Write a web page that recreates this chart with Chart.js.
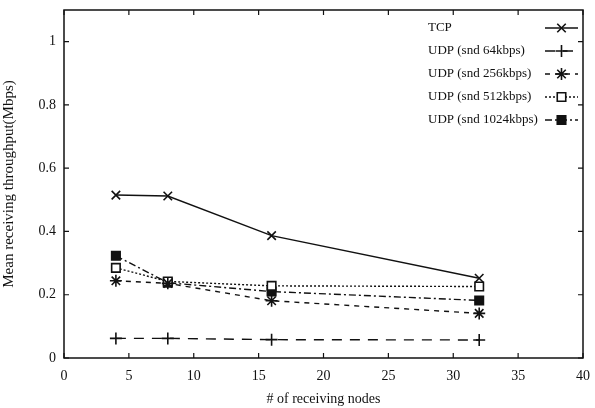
<!DOCTYPE html>
<html>
<head>
<meta charset="utf-8">
<script src="https://cdn.jsdelivr.net/npm/chart.js@4"></script>
<style>
  html, body { margin: 0; padding: 0; background: #fff; }
  #wrap { width: 595px; height: 408px; }
</style>
</head>
<body>
<div id="wrap"><canvas id="chart" width="595" height="408"></canvas></div>
<script>
// Data
const nodes = [4, 8, 16, 32];
const tcp = [0.515, 0.512, 0.387, 0.252];
const udp64 = [0.062, 0.062, 0.058, 0.057];
const udp256 = [0.244, 0.236, 0.181, 0.141];
const udp512 = [0.285, 0.242, 0.228, 0.226];
const udp1024 = [0.323, 0.238, 0.210, 0.182];

const seriesLabels = ['TCP', 'UDP (snd 64kbps)', 'UDP (snd 256kbps)', 'UDP (snd 512kbps)', 'UDP (snd 1024kbps)'];
const xTicks = [0, 5, 10, 15, 20, 25, 30, 35, 40];
const yTicks = [0, 0.2, 0.4, 0.6, 0.8, 1];

const ink = '#111';
const serif = '"Liberation Serif", "DejaVu Serif", serif';

function pts(ys) {
  return nodes.map((x, i) => ({ x: x, y: ys[i] }));
}

function series(label, ys, style, dash, fill, radius) {
  return {
    label: label,
    data: pts(ys),
    borderColor: ink,
    borderWidth: 1.4,
    borderDash: dash,
    pointStyle: style,
    pointRadius: radius,
    pointBorderWidth: 1.6,
    pointBorderColor: ink,
    pointBackgroundColor: fill,
    fill: false,
    tension: 0
  };
}

// drop the automatic label overhang so layout.padding sets the frame
function noOverhang(s) {
  s.paddingTop = 0; s.paddingBottom = 0;
  s.paddingLeft = 0; s.paddingRight = 0;
}

// gnuplot-like frame with inward ticks, and a legend with text on the left
const framePlugin = {
  id: 'frame',
  afterDraw(chart) {
    const { ctx, chartArea: a, scales } = chart;
    ctx.save();
    ctx.strokeStyle = ink;
    ctx.lineWidth = 1.5;
    ctx.strokeRect(a.left, a.top, a.right - a.left, a.bottom - a.top);
    ctx.lineWidth = 1.2;
    xTicks.forEach(v => {
      const px = scales.x.getPixelForValue(v);
      ctx.beginPath();
      ctx.moveTo(px, a.bottom); ctx.lineTo(px, a.bottom - 5);
      ctx.moveTo(px, a.top); ctx.lineTo(px, a.top + 5);
      ctx.stroke();
    });
    yTicks.forEach(v => {
      const py = scales.y.getPixelForValue(v);
      ctx.beginPath();
      ctx.moveTo(a.left, py); ctx.lineTo(a.left + 5, py);
      ctx.moveTo(a.right, py); ctx.lineTo(a.right - 5, py);
      ctx.stroke();
    });

    // legend
    const textX = a.left + 364;
    const lineX0 = a.right - 38, lineX1 = a.right - 5;
    let y = a.top + 18;
    ctx.font = '13px ' + serif;
    ctx.textBaseline = 'middle';
    ctx.textAlign = 'left';
    chart.data.datasets.forEach(ds => {
      ctx.fillStyle = ink;
      ctx.fillText(ds.label, textX, y);
      ctx.strokeStyle = ink;
      ctx.lineWidth = ds.borderWidth;
      ctx.setLineDash(ds.borderDash);
      ctx.beginPath();
      ctx.moveTo(lineX0, y); ctx.lineTo(lineX1, y);
      ctx.stroke();
      ctx.setLineDash([]);
      ctx.lineWidth = ds.pointBorderWidth;
      ctx.fillStyle = ds.pointBackgroundColor;
      Chart.helpers.drawPoint(ctx, {
        pointStyle: ds.pointStyle,
        radius: ds.pointRadius,
        rotation: 0,
        borderWidth: ds.pointBorderWidth
      }, (lineX0 + lineX1) / 2, y);
      y += 23;
    });
    ctx.restore();
  }
};

new Chart(document.getElementById('chart'), {
  type: 'line',
  data: {
    datasets: [
      series(seriesLabels[0], tcp, 'crossRot', [], ink, 6),
      series(seriesLabels[1], udp64, 'cross', [10, 8], ink, 6),
      series(seriesLabels[2], udp256, 'star', [5, 5], ink, 6),
      series(seriesLabels[3], udp512, 'rect', [2, 2], '#fff', 6),
      series(seriesLabels[4], udp1024, 'rect', [7, 3, 2, 3], ink, 6)
    ]
  },
  plugins: [framePlugin],
  options: {
    responsive: false,
    animation: false,
    layout: { padding: { top: 10, right: 12, left: 0, bottom: 0 } },
    plugins: {
      legend: { display: false },
      tooltip: { enabled: false }
    },
    scales: {
      x: {
        type: 'linear',
        min: 0,
        max: 40,
        grid: { display: false, drawTicks: false },
        border: { display: false },
        afterBuildTicks: s => { s.ticks = xTicks.map(v => ({ value: v })); },
        afterFit: s => { s.height = 50; noOverhang(s); },
        ticks: {
          color: ink,
          padding: 10,
          maxRotation: 0,
          font: { family: serif, size: 14 }
        },
        title: {
          display: true,
          text: '# of receiving nodes',
          color: ink,
          padding: { top: 2, bottom: 0 },
          font: { family: serif, size: 14 }
        }
      },
      y: {
        type: 'linear',
        min: 0,
        max: 1.1,
        grid: { display: false, drawTicks: false },
        border: { display: false },
        afterBuildTicks: s => { s.ticks = yTicks.map(v => ({ value: v })); },
        afterFit: s => { s.width = 64; noOverhang(s); },
        ticks: {
          color: ink,
          padding: 8,
          font: { family: serif, size: 14 },
          callback: v => String(v)
        },
        title: {
          display: true,
          text: 'Mean receiving throughput(Mbps)',
          color: ink,
          padding: { top: 0, bottom: 4 },
          font: { family: serif, size: 15 }
        }
      }
    }
  }
});
</script>
</body>
</html>
